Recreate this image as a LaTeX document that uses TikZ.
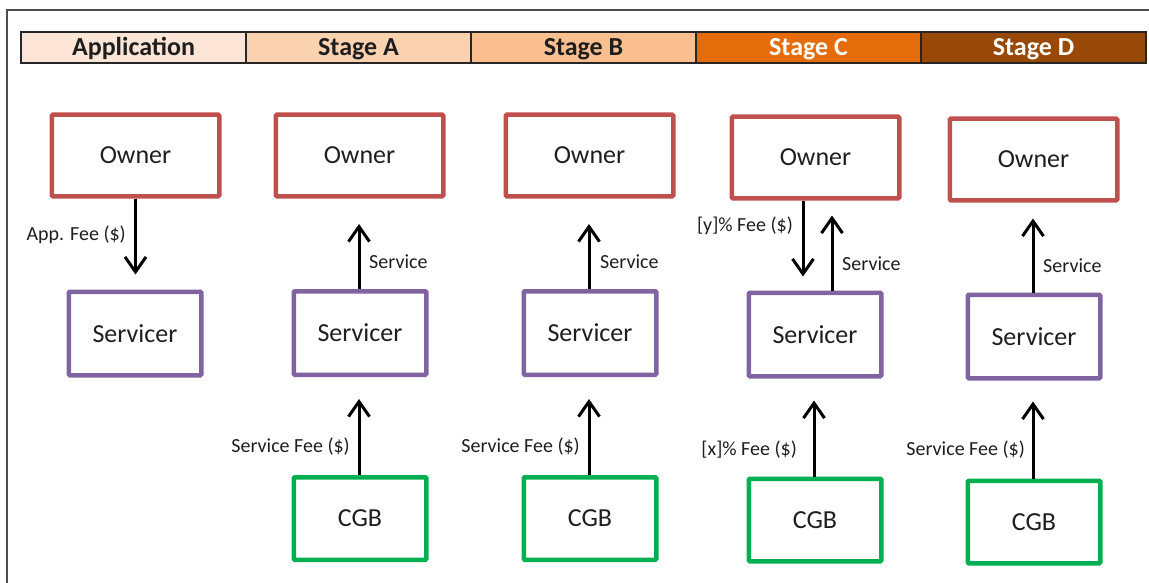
\documentclass[tikz,border=0pt]{standalone}
\usepackage{fontspec}
\setmainfont{Carlito}
\usetikzlibrary{arrows.meta,calc}

\definecolor{ownerc}{HTML}{C0504D}
\definecolor{servc}{HTML}{8064A2}
\definecolor{cgbc}{HTML}{00B050}
\definecolor{txt}{HTML}{1E1E1E}
\definecolor{hApp}{HTML}{FCE4D6}
\definecolor{hA}{HTML}{FAD2B0}
\definecolor{hB}{HTML}{F9BF8F}
\definecolor{hC}{HTML}{E46C0A}
\definecolor{hD}{HTML}{984807}

\tikzset{
  box/.style={draw, line width=4.5pt, rounded corners=1pt, inner sep=0pt,
    text=txt, font=\fontsize{26}{30}\selectfont},
  ownerbox/.style={box, draw=ownerc, minimum width=167.5, minimum height=81.5},
  servbox/.style={box, draw=servc, minimum width=132.5, minimum height=83.5},
  cgbbox/.style={box, draw=cgbc, minimum width=132.5, minimum height=82.5},
  hcell/.style={draw=black!85, line width=1.6pt, minimum width=225,
    minimum height=31.5, inner sep=0pt, text height=18pt, text depth=1pt,
    font=\fontsize{26}{30}\selectfont\bfseries},
  flow/.style={-{Straight Barb[length=15pt,width=21pt]}, line width=3pt, black},
  lbl/.style={inner sep=0pt, text=txt, font=\fontsize{20}{24}\selectfont},
}

\begin{document}
\begin{tikzpicture}[x=1pt,y=-1pt]
\useasboundingbox (0,0) rectangle (1149,583);

% outer frame edges
\draw[line width=1.5pt, black!70] (7,583) -- (7,10) -- (1149,10);

% header row
\node[hcell, fill=hApp, text=txt] (h1) at (133.5,47.5) {Application};
\node[hcell, fill=hA, text=txt] (h2) at (358.5,47.5) {Stage A};
\node[hcell, fill=hB, text=txt] (h3) at (583.5,47.5) {Stage B};
\node[hcell, fill=hC, text=white] (h4) at (808.5,47.5) {Stage C};
\node[hcell, fill=hD, text=white] (h5) at (1033.5,47.5) {Stage D};

% Application
\node[ownerbox] (o1) at (135.5,155.5) {Owner};
\node[servbox] (s1) at (135,333.5) {Servicer};
\coordinate (e1) at ($(o1.south)+(0,76)$);
\draw[flow] (o1.south) -- (e1);
\node[lbl, anchor=east] (l1) at (126,235) {App. Fee (\$)};

% Stage A
\node[ownerbox] (o2) at (359.5,155.5) {Owner};
\node[servbox] (s2) at (360,333) {Servicer};
\node[cgbbox] (c2) at (360,518.5) {CGB};
\coordinate (e2a) at ($(s2.north)+(-1,-65)$);
\coordinate (e2b) at ($(c2.north)+(-1,-76)$);
\draw[flow] ($(s2.north)+(-1,0)$) -- (e2a);
\draw[flow] ($(c2.north)+(-1,0)$) -- (e2b);
\node[lbl, anchor=west] (l2a) at (369,262) {Service};
\node[lbl, anchor=east] (l2b) at (350,447) {Service Fee (\$)};

% Stage B
\node[ownerbox] (o3) at (589.5,155.5) {Owner};
\node[servbox] (s3) at (590,333) {Servicer};
\node[cgbbox] (c3) at (590,518.5) {CGB};
\coordinate (e3a) at ($(s3.north)+(-1,-65)$);
\coordinate (e3b) at ($(c3.north)+(-1,-76)$);
\draw[flow] ($(s3.north)+(-1,0)$) -- (e3a);
\draw[flow] ($(c3.north)+(-1,0)$) -- (e3b);
\node[lbl, anchor=west] (l3a) at (600,262) {Service};
\node[lbl, anchor=east] (l3b) at (580,447) {Service Fee (\$)};

% Stage C
\node[ownerbox] (o4) at (815.5,157.5) {Owner};
\node[servbox] (s4) at (815,334.5) {Servicer};
\node[cgbbox] (c4) at (815,520) {CGB};
\coordinate (e4a) at ($(o4.south)+(-12.5,76)$);
\coordinate (e4b) at ($(s4.north)+(17,-75)$);
\coordinate (e4c) at ($(c4.north)+(-1,-76)$);
\draw[flow] ($(o4.south)+(-12.5,0)$) -- (e4a);
\draw[flow] ($(s4.north)+(17,0)$) -- (e4b);
\draw[flow] ($(c4.north)+(-1,0)$) -- (e4c);
\node[lbl, anchor=east] (l4a) at (793,226) {[y]\% Fee (\$)};
\node[lbl, anchor=west] (l4b) at (842,264) {Service};
\node[lbl, anchor=east] (l4c) at (797,450) {[x]\% Fee (\$)};

% Stage D
\node[ownerbox] (o5) at (1033.5,159.5) {Owner};
\node[servbox] (s5) at (1034,336.5) {Servicer};
\node[cgbbox] (c5) at (1034,522) {CGB};
\coordinate (e5a) at ($(s5.north)+(-1,-74)$);
\coordinate (e5b) at ($(c5.north)+(-1,-77)$);
\draw[flow] ($(s5.north)+(-1,0)$) -- (e5a);
\draw[flow] ($(c5.north)+(-1,0)$) -- (e5b);
\node[lbl, anchor=west] (l5a) at (1043,266) {Service};
\node[lbl, anchor=east] (l5b) at (1025,450) {Service Fee (\$)};
\end{tikzpicture}
\end{document}
